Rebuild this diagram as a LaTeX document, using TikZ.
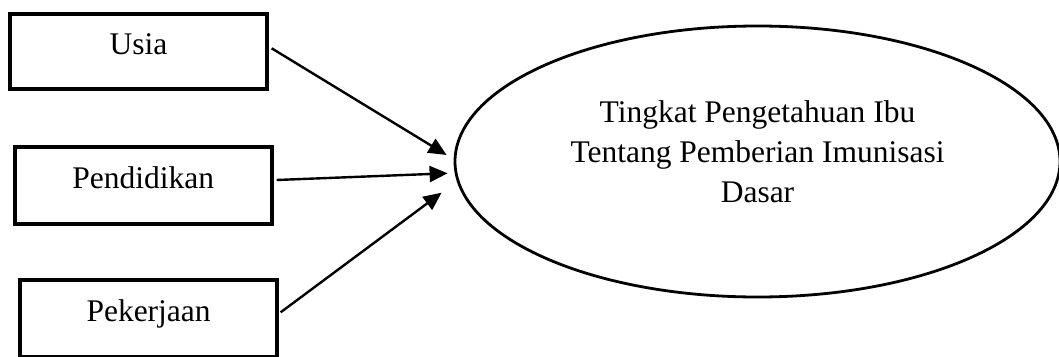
\documentclass[tikz,border=0pt]{standalone}
\usepackage{fontspec}
\setmainfont{Liberation Serif}
\usetikzlibrary{arrows.meta,shapes.geometric,calc}
\begin{document}
\begin{tikzpicture}[x=1pt,y=1pt,
  every node/.style={font=\fontsize{31.5}{40}\selectfont},
  factor/.style={draw, rectangle, line width=4.2pt, inner sep=0pt,
    text height=20pt, text depth=14pt},
  goalshape/.style={draw, ellipse, line width=2.8pt, inner sep=0pt,
    minimum width=605pt, minimum height=271pt, align=center},
  link/.style={line width=2.4pt, -{Triangle[length=18pt,width=16pt]}}
]
\useasboundingbox (0,0) rectangle (1059,-356);
\clip (0,0) rectangle (1059,-356);
\node[factor, minimum width=256.7pt, minimum height=75pt] (usia) at (138.6,-51.2) {Usia};
\node[factor, minimum width=257.3pt, minimum height=76.8pt] (pend) at (143.3,-185.4) {Pendidikan};
\node[factor, minimum width=256.7pt, minimum height=77pt] (pek) at (148.6,-318.8) {Pekerjaan};
\node[goalshape] (goal) at (757.5,-161.5) {Tingkat Pengetahuan Ibu\\Tentang Pemberian Imunisasi\\Dasar\rule[-20pt]{0pt}{0pt}};
\coordinate (t1) at ($(goal.west)+(-7,6.5)$);
\coordinate (t2) at ($(goal.west)+(-6,-11.8)$);
\coordinate (t3) at ($(goal.west)+(-12,-31.2)$);
\draw[link] ($(usia.east)+(2.6,2.9)$) -- (t1);
\draw[link] ($(pend.east)+(2.6,5.4)$) -- (t2);
\draw[link] ($(pek.east)+(1.6,6.5)$) -- (t3);
\end{tikzpicture}
\end{document}
